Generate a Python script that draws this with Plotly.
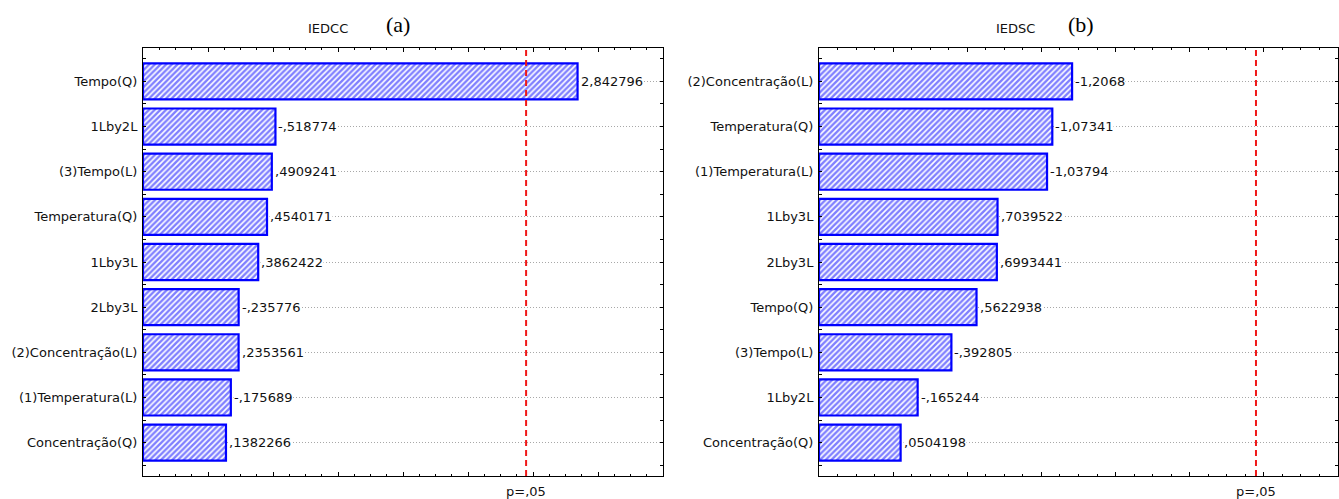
import plotly.graph_objects as go

# Pareto charts of standardized effects (absolute values drawn, signed values labelled)
effects_a = ["Tempo(Q)", "1Lby2L", "(3)Tempo(L)", "Temperatura(Q)", "1Lby3L",
             "2Lby3L", "(2)Concentração(L)", "(1)Temperatura(L)", "Concentração(Q)"]
values_a = [2.842796, -0.518774, 0.4909241, 0.4540171, 0.3862422,
            -0.235776, 0.2353561, -0.175689, 0.1382266]

effects_b = ["(2)Concentração(L)", "Temperatura(Q)", "(1)Temperatura(L)", "1Lby3L",
             "2Lby3L", "Tempo(Q)", "(3)Tempo(L)", "1Lby2L", "Concentração(Q)"]
values_b = [-1.2068, -1.07341, -1.03794, 0.7039522, 0.6993441,
            0.5622938, -0.392805, -0.165244, 0.0504198]

p_critical = 2.446912          # t(0.975; 6) -> p = ,05
x_min = -0.5
x_max_a, x_max_b = 3.5, 3.0

W, H = 1339, 499
FONT = "DejaVu Sans"
BLUE = "#0000ff"
TXT = "#111111"


def stat_fmt(v, width=8):
    """Statistica-style label: comma decimal, no leading zero, trailing zeros cut."""
    sign = "-" if v < 0 else ""
    ip = int(abs(v))
    ip_s = str(ip) if ip else ""
    nd = width - len(sign) - len(ip_s) - 1
    frac = f"{abs(v):.{nd}f}".split(".")[1].rstrip("0")
    return f"{sign}{ip_s},{frac}"


fig = go.Figure()
panels = [
    (effects_a, values_a, "x", "y", x_max_a, (143 / W, 663 / W), "IEDCC", "(a)", 328, 398),
    (effects_b, values_b, "x2", "y2", x_max_b, (819 / W, 1338 / W), "IEDSC", "(b)", 1015, 1081),
]

y_dom = ((H - 476) / H, (H - 48) / H)
annotations = []
shapes = []

for k, (names, vals, xa, ya, xmax, xdom, title, tag, tx, tagx) in enumerate(panels):
    pos = list(range(len(names)))
    mags = [abs(v) for v in vals]
    fig.add_trace(go.Bar(
        orientation="h",
        y=pos,
        x=[m - x_min for m in mags],
        base=x_min,
        width=0.8,
        xaxis=xa, yaxis=ya,
        marker=dict(color="white",
                    line=dict(color=BLUE, width=2.2),
                    pattern=dict(shape="/", fgcolor=BLUE, bgcolor="white",
                                 size=4, solidity=0.6)),
        hoverinfo="skip",
        showlegend=False,
    ))
    for p, m, v in zip(pos, mags, vals):
        annotations.append(dict(
            x=m, y=p, xref=xa, yref=ya, text=stat_fmt(v), showarrow=False,
            xanchor="left", yanchor="middle", xshift=2, bgcolor="white", borderpad=0,
            font=dict(family=FONT, size=13, color=TXT),
        ))
    # critical value line
    shapes.append(dict(type="line", xref=xa, yref=f"{ya} domain",
                       x0=p_critical, x1=p_critical, y0=0, y1=1, layer="above",
                       line=dict(color="#f01818", width=2, dash="6px,4px")))
    annotations.append(dict(x=p_critical, y=(H - 482) / H, xref=xa, yref="paper",
                            text="p=,05", showarrow=False, xanchor="center", yanchor="top",
                            font=dict(family=FONT, size=13, color=TXT)))
    annotations.append(dict(x=tx / W, y=1 - 29 / H, xref="paper", yref="paper",
                            text=title, showarrow=False, xanchor="center", yanchor="middle",
                            font=dict(family=FONT, size=13, color=TXT)))
    annotations.append(dict(x=tagx / W, y=1 - 24 / H, xref="paper", yref="paper",
                            text=tag, showarrow=False, xanchor="center", yanchor="middle",
                            font=dict(family="Liberation Serif", size=22, color="black")))

    xaxis = dict(domain=list(xdom), range=[x_min, xmax], anchor=ya,
                 showline=True, linecolor="black", linewidth=1, mirror="ticks",
                 ticks="inside", ticklen=4, tickcolor="black",
                 tickmode="linear", tick0=x_min, dtick=0.5,
                 minor=dict(ticks="inside", ticklen=2, dtick=0.125, tickcolor="black"),
                 showticklabels=False, showgrid=False, zeroline=False, fixedrange=True)
    yaxis = dict(domain=list(y_dom), range=[len(names) - 1 + 0.74, -0.74], anchor=xa,
                 showline=True, linecolor="black", linewidth=1, mirror="ticks",
                 ticks="inside", ticklen=3, tickcolor="black",
                 tickmode="array", tickvals=pos, ticktext=names,
                 minor=dict(ticks="inside", ticklen=3, tickmode="array",
                            tickvals=[p + 0.5 for p in pos[:-1]] + [-0.5, len(pos) - 0.5],
                            tickcolor="black"),
                 showgrid=True, gridcolor="#a8a8a8", griddash="1px,2px", gridwidth=1,
                 zeroline=False, tickfont=dict(family=FONT, size=13, color=TXT),
                 ticklabelstandoff=2, fixedrange=True)
    suffix = "" if k == 0 else "2"
    fig.update_layout(**{f"xaxis{suffix}": xaxis, f"yaxis{suffix}": yaxis})

fig.update_layout(
    width=W, height=H,
    margin=dict(l=0, r=0, t=0, b=0),
    paper_bgcolor="white", plot_bgcolor="white",
    annotations=annotations, shapes=shapes,
    bargap=0.2,
)

fig.write_html("out.html", config={"displayModeBar": False})
